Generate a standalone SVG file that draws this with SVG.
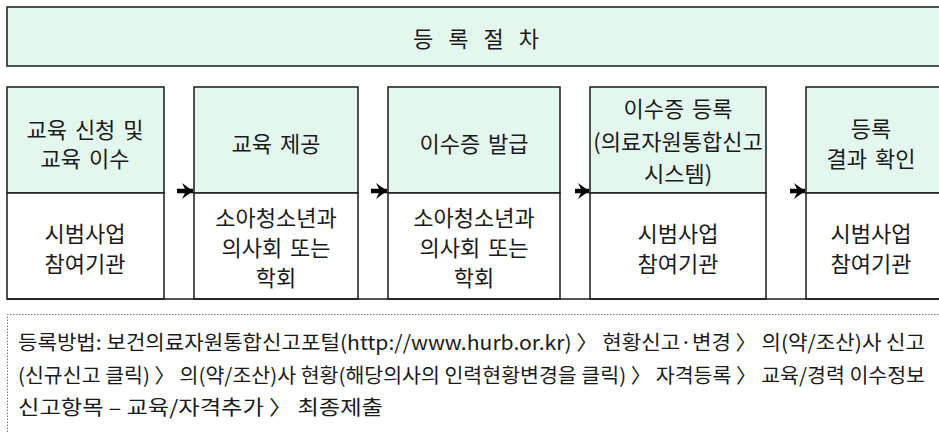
<svg xmlns="http://www.w3.org/2000/svg" width="939" height="432" viewBox="0 0 939 432">
<style>
.box{fill:#e4f7ef;stroke:#1a1a1a;stroke-width:1.5}
.wbox{fill:#ffffff;stroke:#1a1a1a;stroke-width:1.5}
.t{font-family:"Noto Sans CJK KR","Noto Sans",sans-serif;font-size:22px;word-spacing:3px;fill:#1a1a1a;text-anchor:middle;dominant-baseline:central}
.n{font-family:"Noto Sans CJK KR","Noto Sans",sans-serif;font-size:20px;fill:#1a1a1a}
.arr{stroke:#000;stroke-width:4.5;fill:none}
</style>
<defs>
<marker id="ah" markerWidth="11" markerHeight="16" refX="11" refY="8" orient="auto" markerUnits="userSpaceOnUse">
<path d="M0,0 L11,8 L0,16 L4,8 Z" fill="#000"/>
</marker>
</defs>
<rect width="939" height="432" fill="#ffffff"/>
<g id="title">
<rect class="box" x="7" y="7" width="940" height="59"/>
<text class="t" x="476" y="37" textLength="126" lengthAdjust="spacing">등 록 절 차</text>
</g>
<g id="step1">
<rect class="box" x="7" y="87" width="157" height="106"/>
<rect class="wbox" x="7" y="193" width="157" height="106"/>
<text class="t" x="85" y="128">교육 신청 및</text>
<text class="t" x="85" y="157">교육 이수</text>
<text class="t" x="85" y="232">시범사업</text>
<text class="t" x="85" y="262">참여기관</text>
</g>
<g id="step2">
<rect class="box" x="194" y="87" width="164" height="106"/>
<rect class="wbox" x="194" y="193" width="164" height="106"/>
<text class="t" x="276" y="142">교육 제공</text>
<text class="t" x="276" y="216">소아청소년과</text>
<text class="t" x="276" y="246">의사회 또는</text>
<text class="t" x="276" y="276">학회</text>
</g>
<g id="step3">
<rect class="box" x="388" y="87" width="172" height="106"/>
<rect class="wbox" x="388" y="193" width="172" height="106"/>
<text class="t" x="474" y="142">이수증 발급</text>
<text class="t" x="474" y="216">소아청소년과</text>
<text class="t" x="474" y="246">의사회 또는</text>
<text class="t" x="474" y="276">학회</text>
</g>
<g id="step4">
<rect class="box" x="590" y="87" width="176" height="106"/>
<rect class="wbox" x="590" y="193" width="176" height="106"/>
<text class="t" x="678" y="107">이수증 등록</text>
<text class="t" x="678" y="140">(의료자원통합신고</text>
<text class="t" x="678" y="172">시스템)</text>
<text class="t" x="678" y="232">시범사업</text>
<text class="t" x="678" y="262">참여기관</text>
</g>
<g id="step5">
<rect class="box" x="806" y="87" width="140" height="106"/>
<rect class="wbox" x="806" y="193" width="140" height="106"/>
<text class="t" x="871" y="127">등록</text>
<text class="t" x="871" y="157">결과 확인</text>
<text class="t" x="871" y="232">시범사업</text>
<text class="t" x="871" y="262">참여기관</text>
</g>
<g id="connectors">
<line class="arr" x1="177" y1="191" x2="193" y2="191" marker-end="url(#ah)"/>
<line class="arr" x1="371" y1="191" x2="387" y2="191" marker-end="url(#ah)"/>
<line class="arr" x1="575" y1="191" x2="589" y2="191" marker-end="url(#ah)"/>
<line class="arr" x1="790" y1="191" x2="805" y2="191" marker-end="url(#ah)"/>
</g>
<line x1="7" y1="299" x2="939" y2="299" stroke="#1a1a1a" stroke-width="1.5"/>
<g id="note">
<path d="M7.5,432 V314.5 H939" fill="none" stroke="#777" stroke-width="1" stroke-dasharray="1.5,1.5"/>
<text class="n" x="18" y="350" textLength="907" lengthAdjust="spacingAndGlyphs">등록방법: 보건의료자원통합신고포털(http://www.hurb.or.kr) 〉 현황신고·변경 〉 의(약/조산)사 신고</text>
<text class="n" x="18" y="383" textLength="907" lengthAdjust="spacingAndGlyphs">(신규신고 클릭) 〉 의(약/조산)사 현황(해당의사의 인력현황변경을 클릭) 〉 자격등록 〉 교육/경력 이수정보</text>
<text class="n" x="18" y="415" textLength="365" lengthAdjust="spacingAndGlyphs">신고항목 – 교육/자격추가 〉 최종제출</text>
</g>
</svg>
